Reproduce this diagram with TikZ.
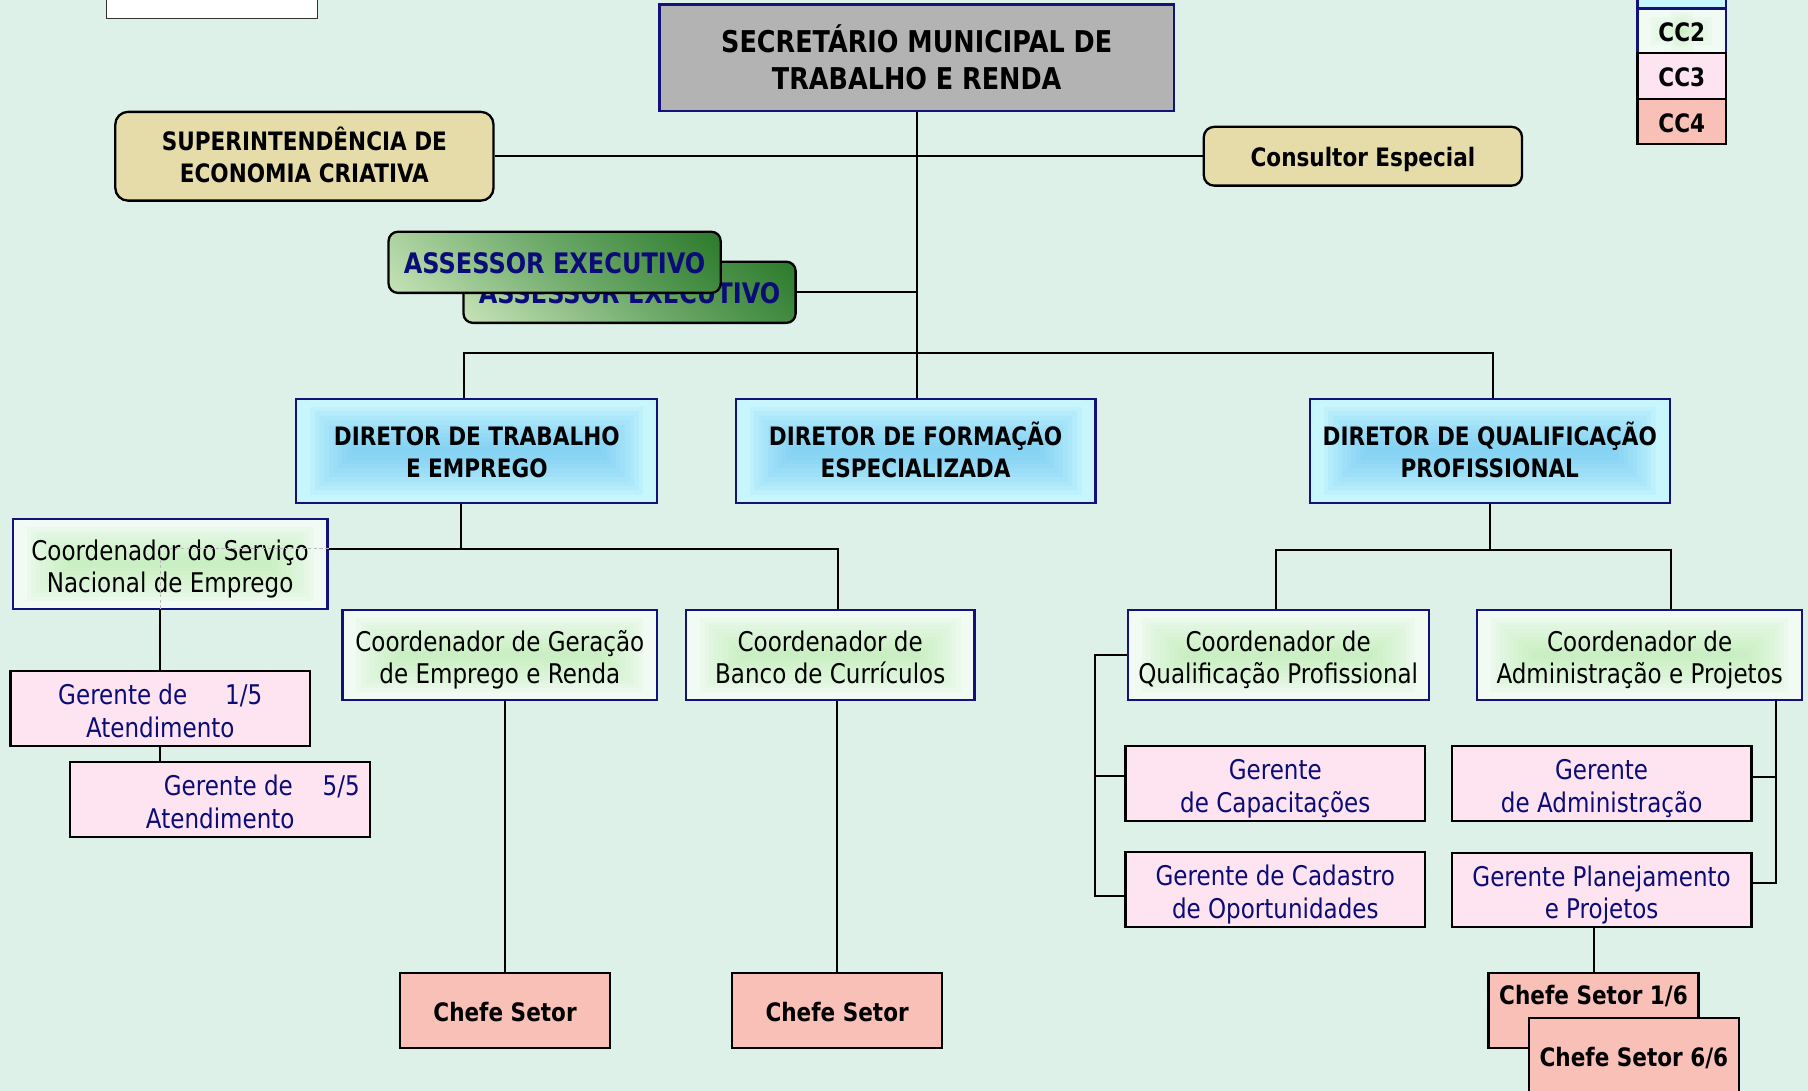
\documentclass[tikz,border=0pt]{standalone}
\usepackage{fontspec}
\setmainfont{DejaVu Sans}[FakeStretch=0.85]
\usetikzlibrary{calc}
\definecolor{bg}{HTML}{DDF1E8}
\definecolor{navy}{HTML}{12127A}
\definecolor{navytext}{HTML}{0C0C78}
\definecolor{secgray}{HTML}{B3B3B3}
\definecolor{beige}{HTML}{E6DCAA}
\definecolor{dirout}{HTML}{C8F6FD}
\definecolor{dirin}{HTML}{62C2F4}
\definecolor{coout}{HTML}{F1FAF3}
\definecolor{coin}{HTML}{B8EEAC}
\definecolor{pinkf}{HTML}{FDE4F0}
\definecolor{salmon}{HTML}{F8C0B6}
\definecolor{assdark}{HTML}{2A7A2A}
\definecolor{assmid}{HTML}{70AB6C}
\definecolor{asslight}{HTML}{C8E4B8}
\pgfdeclareverticalshading{assgrad}{100bp}{color(0bp)=(asslight); color(14bp)=(asslight); color(50bp)=(assmid); color(86bp)=(assdark); color(100bp)=(assdark)}
\newcommand\fontB{\fontsize{22}{28}\selectfont\bfseries}
\newcommand\fontR{\fontsize{23.5}{28}\selectfont}
\newcommand\fontSec{\fontsize{26}{32}\selectfont\bfseries}
\newcommand\fontAss{\fontsize{24.5}{28}\selectfont\bfseries}
\newcommand\myT{20pt}
\newcommand\tS{\rule{0pt}{\myT}}
\tikzset{
  every node/.style={inner sep=0pt, align=center},
  bx/.style 2 args={minimum width=#1, minimum height=#2},
  tb/.style 2 args={execute at begin node={\def\myT{#1}}, execute at end node={\rule[-#2]{0pt}{#2}}},
  conn/.style={line width=1.7pt, draw=black},
  faint/.style={line width=0.7pt, draw=gray!55, densely dashed},
  navyb/.style={draw=navy, line width=2pt},
  blackb/.style={draw=black, line width=2pt},
  glow/.style={path picture={
    \foreach \k in {0,...,9}{
      \fill[#1,opacity=0.09] ([shift={(12+\k*4,7+\k*3.8)}]path picture bounding box.south west)
        rectangle ([shift={(-12-\k*4,-7-\k*3.8)}]path picture bounding box.north east);}}},
  glowc/.style={path picture={
    \foreach \k in {0,...,9}{
      \fill[#1,opacity=0.09] ([shift={(12+\k*4,7+\k*3.2)}]path picture bounding box.south west)
        rectangle ([shift={(-12-\k*4,-7-\k*3.2)}]path picture bounding box.north east);}}},
  secbox/.style={navyb, fill=secgray, font=\fontSec, tb={29pt}{6pt}},
  capsbox/.style={draw=black, line width=2pt, fill=beige, rounded corners=11pt, font=\fontB, tb={24pt}{6pt}},
  dirbox/.style={navyb, fill=dirout, glow=dirin, font=\fontB, tb={24pt}{6pt}},
  coordbox/.style={navyb, fill=coout, glowc=coin, font=\fontR, tb={27.5pt}{6pt}},
  gerbox/.style={blackb, fill=pinkf, font=\fontR, text=navytext, tb={27.5pt}{6pt}},
  chefbox/.style={blackb, fill=salmon, font=\fontB, tb={24pt}{6pt}},
  assbox/.style={draw=black, line width=2pt, rounded corners=8pt, shade, shading=assgrad, shading angle=-45, font=\fontAss, text=navytext, tb={25pt}{6pt}},
}
\begin{document}
\begin{tikzpicture}[x=1pt,y=1pt]
\fill[bg] (0,0) rectangle (1568,-946);
\useasboundingbox (0,0) rectangle (1568,-946);

% top-left white box and legend
\node[draw=gray!40!black, line width=1pt, fill=white, bx={183pt}{30pt}] (logo) at (183.5,-1) {};
\node[navyb, fill=dirout, bx={77pt}{20pt}] (leg0) at (1458.5,3) {};
\node[navyb, fill=coout, glowc=coin, bx={77pt}{38pt}, font=\fontB, tb={24pt}{6pt}] (cc2) at (1458.5,-27) {\tS CC2};
\node[blackb, fill=pinkf, bx={77pt}{40pt}, font=\fontB, tb={24pt}{6pt}] (cc3) at (1458.5,-66) {\tS CC3};
\node[blackb, fill=salmon, bx={77pt}{39pt}, font=\fontB, tb={24pt}{6pt}] (cc4) at (1458.5,-105.5) {\tS CC4};

% top level
\node[secbox, bx={446pt}{92pt}] (sec) at (795,-50) {\tS SECRETÁRIO MUNICIPAL DE\\TRABALHO E RENDA};
\node[capsbox, bx={328pt}{77pt}] (sup) at (264,-135.5) {\tS SUPERINTENDÊNCIA DE\\ECONOMIA CRIATIVA};
\node[capsbox, rounded corners=9pt, bx={276pt}{51pt}] (cons) at (1182,-135.5) {\tS Consultor Especial};

\node[assbox, bx={288pt}{53pt}] (ass2) at (546,-253.5) {\tS ASSESSOR EXECUTIVO};
\node[assbox, bx={288pt}{53pt}] (ass1) at (481,-227.5) {\tS ASSESSOR EXECUTIVO};

% directors
\node[dirbox, bx={313pt}{90pt}] (dtrab) at (413.5,-391) {\tS DIRETOR DE TRABALHO\\E EMPREGO};
\node[dirbox, bx={312pt}{90pt}] (dform) at (794,-391) {\tS DIRETOR DE FORMAÇÃO\\ESPECIALIZADA};
\node[dirbox, bx={312pt}{90pt}] (dqual) at (1292,-391) {\tS DIRETOR DE QUALIFICAÇÃO\\PROFISSIONAL};

% coordinators
\node[coordbox, bx={273pt}{78pt}] (cserv) at (147.5,-489) {\tS Coordenador do Serviço\\Nacional de Emprego};
\node[coordbox, bx={273pt}{78pt}] (cgera) at (433.5,-568) {\tS Coordenador de Geração\\de Emprego e Renda};
\node[coordbox, bx={250pt}{78pt}] (cbanco) at (720,-568) {\tS Coordenador de\\Banco de Currículos};
\node[coordbox, bx={261pt}{78pt}] (cqual) at (1108.5,-568) {\tS Coordenador de\\Qualificação Profissional};
\node[coordbox, bx={282pt}{78pt}] (cadm) at (1422,-568) {\tS Coordenador de\\Administração e Projetos};

% managers
\node[gerbox, bx={260pt}{65pt}] (ger1) at (139,-614.5) {\tS Gerente de\hspace{1.4em}1/5\\Atendimento};
\node[gerbox, bx={260pt}{65pt}] (ger5) at (191,-693.5) {\tS\hspace*{72pt}Gerente de\hspace{1.1em}5/5\\Atendimento};
\node[gerbox, bx={260pt}{65pt}] (gcap) at (1106,-679.5) {\tS Gerente\\de Capacitações};
\node[gerbox, bx={260pt}{65pt}] (gcad) at (1106,-771.5) {\tS Gerente de Cadastro\\de Oportunidades};
\node[gerbox, bx={260pt}{65pt}] (gadm) at (1389,-679.5) {\tS Gerente\\de Administração};
\node[gerbox, bx={260pt}{64pt}] (gplan) at (1389,-772) {\tS Gerente Planejamento\\e Projetos};

% section heads
\node[chefbox, bx={182pt}{65pt}] (chefe1) at (438,-876.5) {\tS Chefe Setor};
\node[chefbox, bx={182pt}{65pt}] (chefe2) at (726,-876.5) {\tS Chefe Setor};
\node[chefbox, bx={182pt}{65pt}] (chefe16) at (1382,-876.5) {\tS Chefe Setor 1/6\\\mbox{}};
\node[chefbox, bx={182pt}{65pt}] (chefe66) at (1417,-915.5) {\tS Chefe Setor 6/6};

% connectors
\coordinate (h1) at (402,-306);
\coordinate (h2) at (1295,-306);
\coordinate (t1) at (400,-476);
\coordinate (t2) at (727,-476);
\coordinate (q1) at (1107,-477);
\coordinate (q2) at (1449,-477);
\coordinate (lbb) at (950,-777);
\coordinate (lbm) at (950,-673);
\coordinate (rb) at (1540,-766);
\coordinate (rbm) at (1540,-674);

\draw[conn] (sec.south) -- (sec.south |- dform.north);
\draw[conn] (sup.east) -- (cons.west);
\draw[conn] (ass2.east) -- (ass2.east -| sec.south);
\draw[conn] (dtrab.north -| h1) -- (h1) -- (h2) -- (h2 |- dqual.north);
\draw[conn] (t1 |- dtrab.south) -- (t1);
\draw[conn] (cserv.east |- t1) -- (t2) -- (t2 |- cbanco.north);
\draw[faint] (cserv.east |- t1) -- (ger1.north |- t1) -- (ger1.north |- cserv.south);
\draw[conn] (ger1.north) -- (ger1.north |- cserv.south);
\draw[conn] (ger1.south) -- (ger1.south |- ger5.north);
\draw[conn] (chefe1.north) -- (chefe1.north |- cgera.south);
\draw[conn] (chefe2.north) -- (chefe2.north |- cbanco.south);
\draw[conn] (dqual.south) -- (dqual.south |- q1);
\draw[conn] (q1 |- cqual.north) -- (q1) -- (q2) -- (q2 |- cadm.north);
\draw[conn] (cqual.west) -- (cqual.west -| lbb) -- (lbb) -- (lbb -| gcad.west);
\draw[conn] (lbm) -- (lbm -| gcap.west);
\draw[conn] (rb |- cadm.south) -- (rb) -- (rb -| gplan.east);
\draw[conn] (rbm) -- (rbm -| gadm.east);
\draw[conn] (chefe16.north) -- (chefe16.north |- gplan.south);
\end{tikzpicture}
\end{document}
